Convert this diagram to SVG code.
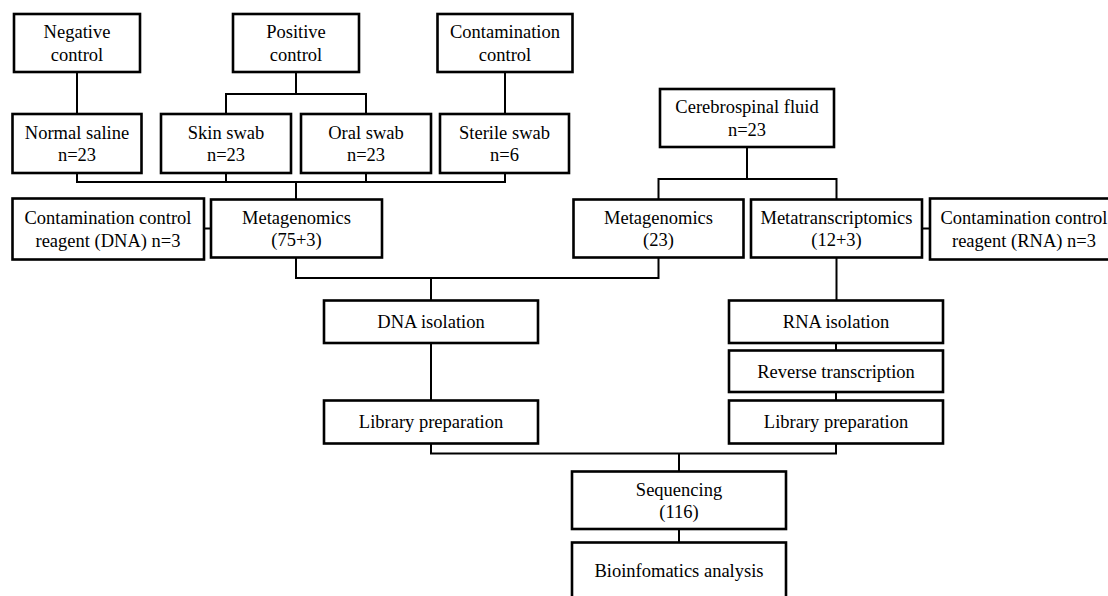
<svg xmlns="http://www.w3.org/2000/svg" width="1108" height="596" viewBox="0 0 1108 596">
<style>
.box{fill:#fff;stroke:#000;stroke-width:2.6}
.t{font-family:"Liberation Serif","Times New Roman",serif;font-size:18.5px;fill:#000;text-anchor:middle}
.c{fill:none;stroke:#000;stroke-width:2}
</style>
<rect width="1108" height="596" fill="#fff"/>
<g id="connectors">
<path class="c" d="M77 72V114"/>
<path class="c" d="M296 72V94M226 114V94H366V114"/>
<path class="c" d="M505 72V114"/>
<path class="c" d="M77 173V182H505V173M226 173V182M366 173V182M296 182V199.5"/>
<path class="c" d="M204 228.5H211"/>
<path class="c" d="M296 257.5V278H658.5V257.5M431 278V300.5"/>
<path class="c" d="M747 147V179M658.5 199.5V179H836.5V199.5"/>
<path class="c" d="M922 228.5H930"/>
<path class="c" d="M836.5 257.5V300.5"/>
<path class="c" d="M836 343V350.5M836 392V400.5"/>
<path class="c" d="M431 343V400.5"/>
<path class="c" d="M431 443.5V453.5H836V443.5M679 453.5V471.5"/>
<path class="c" d="M679 529V542.5"/>
</g>
<g id="negative-control"><rect class="box" x="14" y="14" width="126" height="58"/><text class="t" x="77" y="38">Negative</text><text class="t" x="77" y="60.5">control</text></g>
<g id="positive-control"><rect class="box" x="233" y="14" width="126" height="58"/><text class="t" x="296" y="38">Positive</text><text class="t" x="296" y="60.5">control</text></g>
<g id="contamination-control"><rect class="box" x="437.5" y="14" width="135" height="58"/><text class="t" x="505" y="38">Contamination</text><text class="t" x="505" y="60.5">control</text></g>
<g id="normal-saline"><rect class="box" x="12.5" y="114" width="129" height="59"/><text class="t" x="77" y="138.5">Normal saline</text><text class="t" x="77" y="161">n=23</text></g>
<g id="skin-swab"><rect class="box" x="161" y="114" width="130" height="59"/><text class="t" x="226" y="138.5">Skin swab</text><text class="t" x="226" y="161">n=23</text></g>
<g id="oral-swab"><rect class="box" x="301" y="114" width="130" height="59"/><text class="t" x="366" y="138.5">Oral swab</text><text class="t" x="366" y="161">n=23</text></g>
<g id="sterile-swab"><rect class="box" x="440" y="114" width="129" height="59"/><text class="t" x="504.5" y="138.5">Sterile swab</text><text class="t" x="504.5" y="161">n=6</text></g>
<g id="dna-reagent"><rect class="box" x="12.5" y="198.5" width="191.5" height="61"/><text class="t" x="108" y="224">Contamination control</text><text class="t" x="108" y="246.5">reagent (DNA) n=3</text></g>
<g id="metagenomics-controls"><rect class="box" x="211" y="199.5" width="171" height="58"/><text class="t" x="296.5" y="223.5">Metagenomics</text><text class="t" x="296.5" y="246">(75+3)</text></g>
<g id="csf"><rect class="box" x="660" y="89" width="174" height="58"/><text class="t" x="747" y="113">Cerebrospinal fluid</text><text class="t" x="747" y="135.5">n=23</text></g>
<g id="metagenomics-csf"><rect class="box" x="573.5" y="199.5" width="170" height="58"/><text class="t" x="658.5" y="223.5">Metagenomics</text><text class="t" x="658.5" y="246">(23)</text></g>
<g id="metatranscriptomics"><rect class="box" x="751" y="199.5" width="171" height="58"/><text class="t" x="836.5" y="223.5">Metatranscriptomics</text><text class="t" x="836.5" y="246">(12+3)</text></g>
<g id="rna-reagent"><rect class="box" x="930" y="198.5" width="188" height="61"/><text class="t" x="1024" y="224">Contamination control</text><text class="t" x="1024" y="246.5">reagent (RNA) n=3</text></g>
<g id="dna-isolation"><rect class="box" x="324" y="300.5" width="214" height="42.5"/><text class="t" x="431" y="328">DNA isolation</text></g>
<g id="library-dna"><rect class="box" x="324" y="400.5" width="214" height="43"/><text class="t" x="431" y="428">Library preparation</text></g>
<g id="rna-isolation"><rect class="box" x="729" y="300.5" width="214" height="42.5"/><text class="t" x="836" y="328">RNA isolation</text></g>
<g id="reverse-transcription"><rect class="box" x="729" y="350.5" width="214" height="41.5"/><text class="t" x="836" y="377.5">Reverse transcription</text></g>
<g id="library-rna"><rect class="box" x="729" y="400.5" width="214" height="43"/><text class="t" x="836" y="428">Library preparation</text></g>
<g id="sequencing"><rect class="box" x="572" y="471.5" width="214" height="57.5"/><text class="t" x="679" y="495.5">Sequencing</text><text class="t" x="679" y="518">(116)</text></g>
<g id="bioinformatics"><rect class="box" x="572" y="542.5" width="214" height="58"/><text class="t" x="679" y="577">Bioinfomatics analysis</text></g>
</svg>
